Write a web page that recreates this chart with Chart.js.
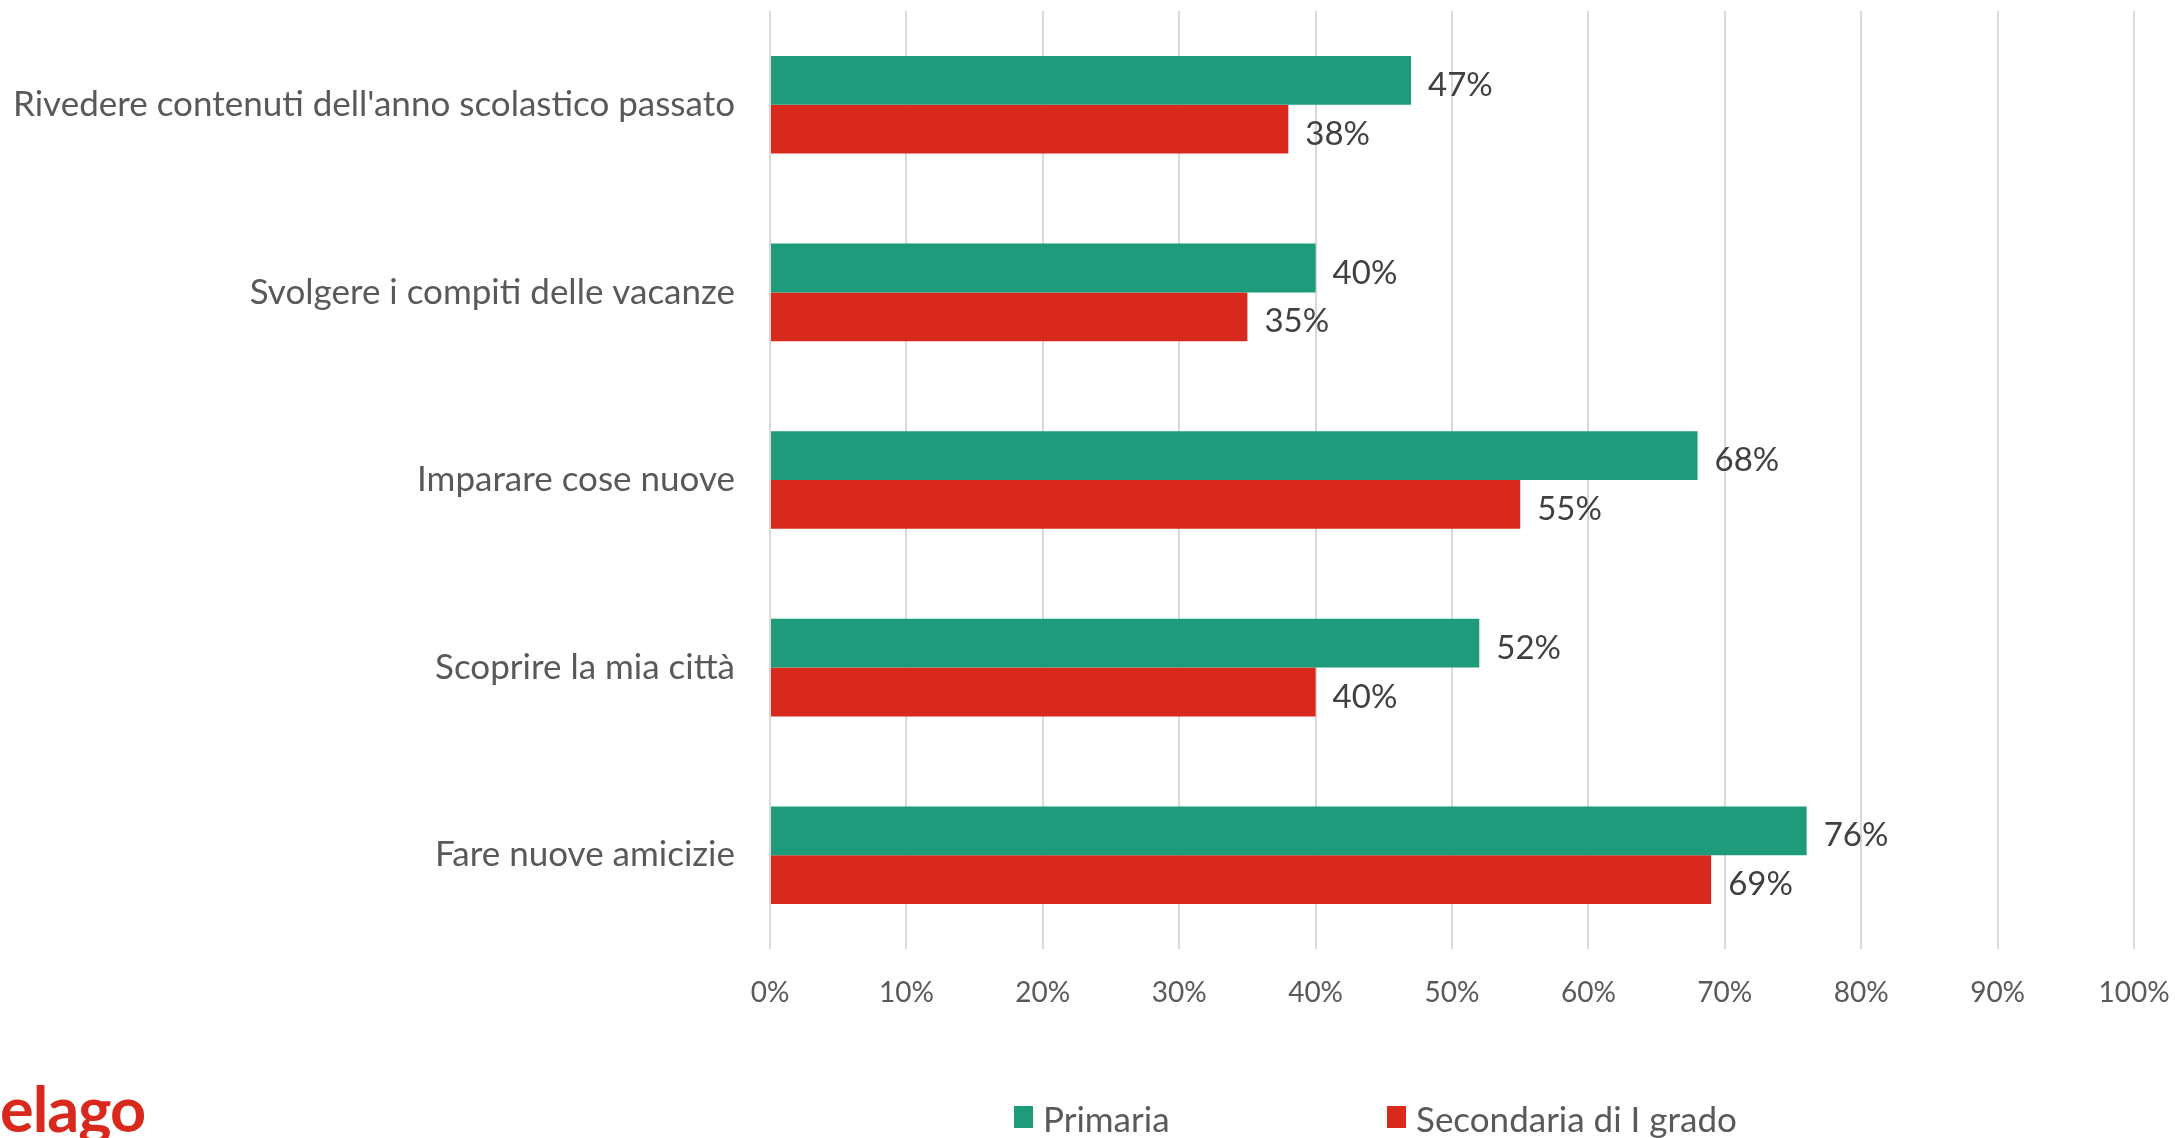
<!DOCTYPE html>
<html lang="it">
<head>
<meta charset="utf-8">
<title>Attività estive</title>
<script src="https://cdn.jsdelivr.net/npm/chart.js@4/dist/chart.umd.min.js"></script>
<style>
  html, body { margin: 0; padding: 0; background: #fff; }
  #wrap { position: relative; width: 2175px; height: 1138px; }
  #logo {
    position: absolute; left: 0; top: 1070px;
    font-family: Lato, sans-serif; font-weight: 700; font-size: 63px;
    color: #d9291d; letter-spacing: -1px;
  }
</style>
</head>
<body>
<div id="wrap">
  <canvas id="chart" width="2175" height="1138"></canvas>
  <div id="logo">elago</div>
</div>
<script>
// Dati
const categorie = [
  'Rivedere contenuti dell\'anno scolastico passato',
  'Svolgere i compiti delle vacanze',
  'Imparare cose nuove',
  'Scoprire la mia città',
  'Fare nuove amicizie'
];
const primaria = [47, 40, 68, 52, 76];
const secondaria = [38, 35, 55, 40, 69];
const tickX = [0, 10, 20, 30, 40, 50, 60, 70, 80, 90, 100];

const FONT = 'Lato, "Open Sans", sans-serif';
const GRIGIO = '#595959';

// Etichette dei valori a destra delle barre
const valueLabels = {
  id: 'valueLabels',
  afterDatasetsDraw(chart) {
    const ctx = chart.ctx;
    ctx.save();
    ctx.font = '33px ' + FONT;
    ctx.fillStyle = '#404040';
    ctx.textAlign = 'left';
    ctx.textBaseline = 'middle';
    chart.data.datasets.forEach((ds, i) => {
      chart.getDatasetMeta(i).data.forEach((bar, j) => {
        ctx.fillText(ds.data[j] + '%', bar.x + 17, bar.y + 5);
      });
    });
    ctx.restore();
  }
};

// Legenda in basso, come nell'originale
const legendaBasso = {
  id: 'legendaBasso',
  afterDraw(chart) {
    const ctx = chart.ctx;
    const posX = [1014, 1387];
    const y = 1120;
    ctx.save();
    ctx.font = '35px ' + FONT;
    ctx.textBaseline = 'middle';
    chart.data.datasets.forEach((ds, i) => {
      ctx.fillStyle = ds.backgroundColor;
      ctx.fillRect(posX[i], y - 14, 19, 22);
      ctx.fillStyle = GRIGIO;
      ctx.fillText(ds.label, posX[i] + 29, y + 1);
    });
    ctx.restore();
  }
};

new Chart(document.getElementById('chart'), {
  type: 'bar',
  data: {
    labels: categorie,
    datasets: [
      {
        label: 'Primaria',
        data: primaria,
        backgroundColor: '#1e9b7a',
        barPercentage: 1,
        categoryPercentage: 0.52
      },
      {
        label: 'Secondaria di I grado',
        data: secondaria,
        backgroundColor: '#d9291d',
        barPercentage: 1,
        categoryPercentage: 0.52
      }
    ]
  },
  options: {
    indexAxis: 'y',
    responsive: false,
    animation: false,
    layout: { padding: { top: 11, right: 41, bottom: 0, left: 0 } },
    plugins: {
      legend: { display: false },
      tooltip: { enabled: false }
    },
    scales: {
      x: {
        min: 0,
        max: 100,
        afterBuildTicks(scale) {
          scale.ticks = tickX.map(v => ({ value: v }));
        },
        afterFit(scale) { scale.height = 189; },
        grid: { color: '#d9d9d9', lineWidth: 2, drawTicks: true, tickLength: 27, tickColor: 'rgba(0,0,0,0)' },
        border: { display: false },
        ticks: {
          padding: 0,
          color: GRIGIO,
          font: { family: FONT, size: 28 },
          callback: v => v + '%'
        }
      },
      y: {
        afterFit(scale) { scale.width = 770; },
        grid: { display: true, drawOnChartArea: false, drawTicks: true, tickLength: 35, color: 'rgba(0,0,0,0)' },
        border: { display: false },
        ticks: {
          padding: 0,
          color: GRIGIO,
          font: { family: FONT, size: 35, lineHeight: 0.5 }
        }
      }
    }
  },
  plugins: [valueLabels, legendaBasso]
});
</script>
</body>
</html>
